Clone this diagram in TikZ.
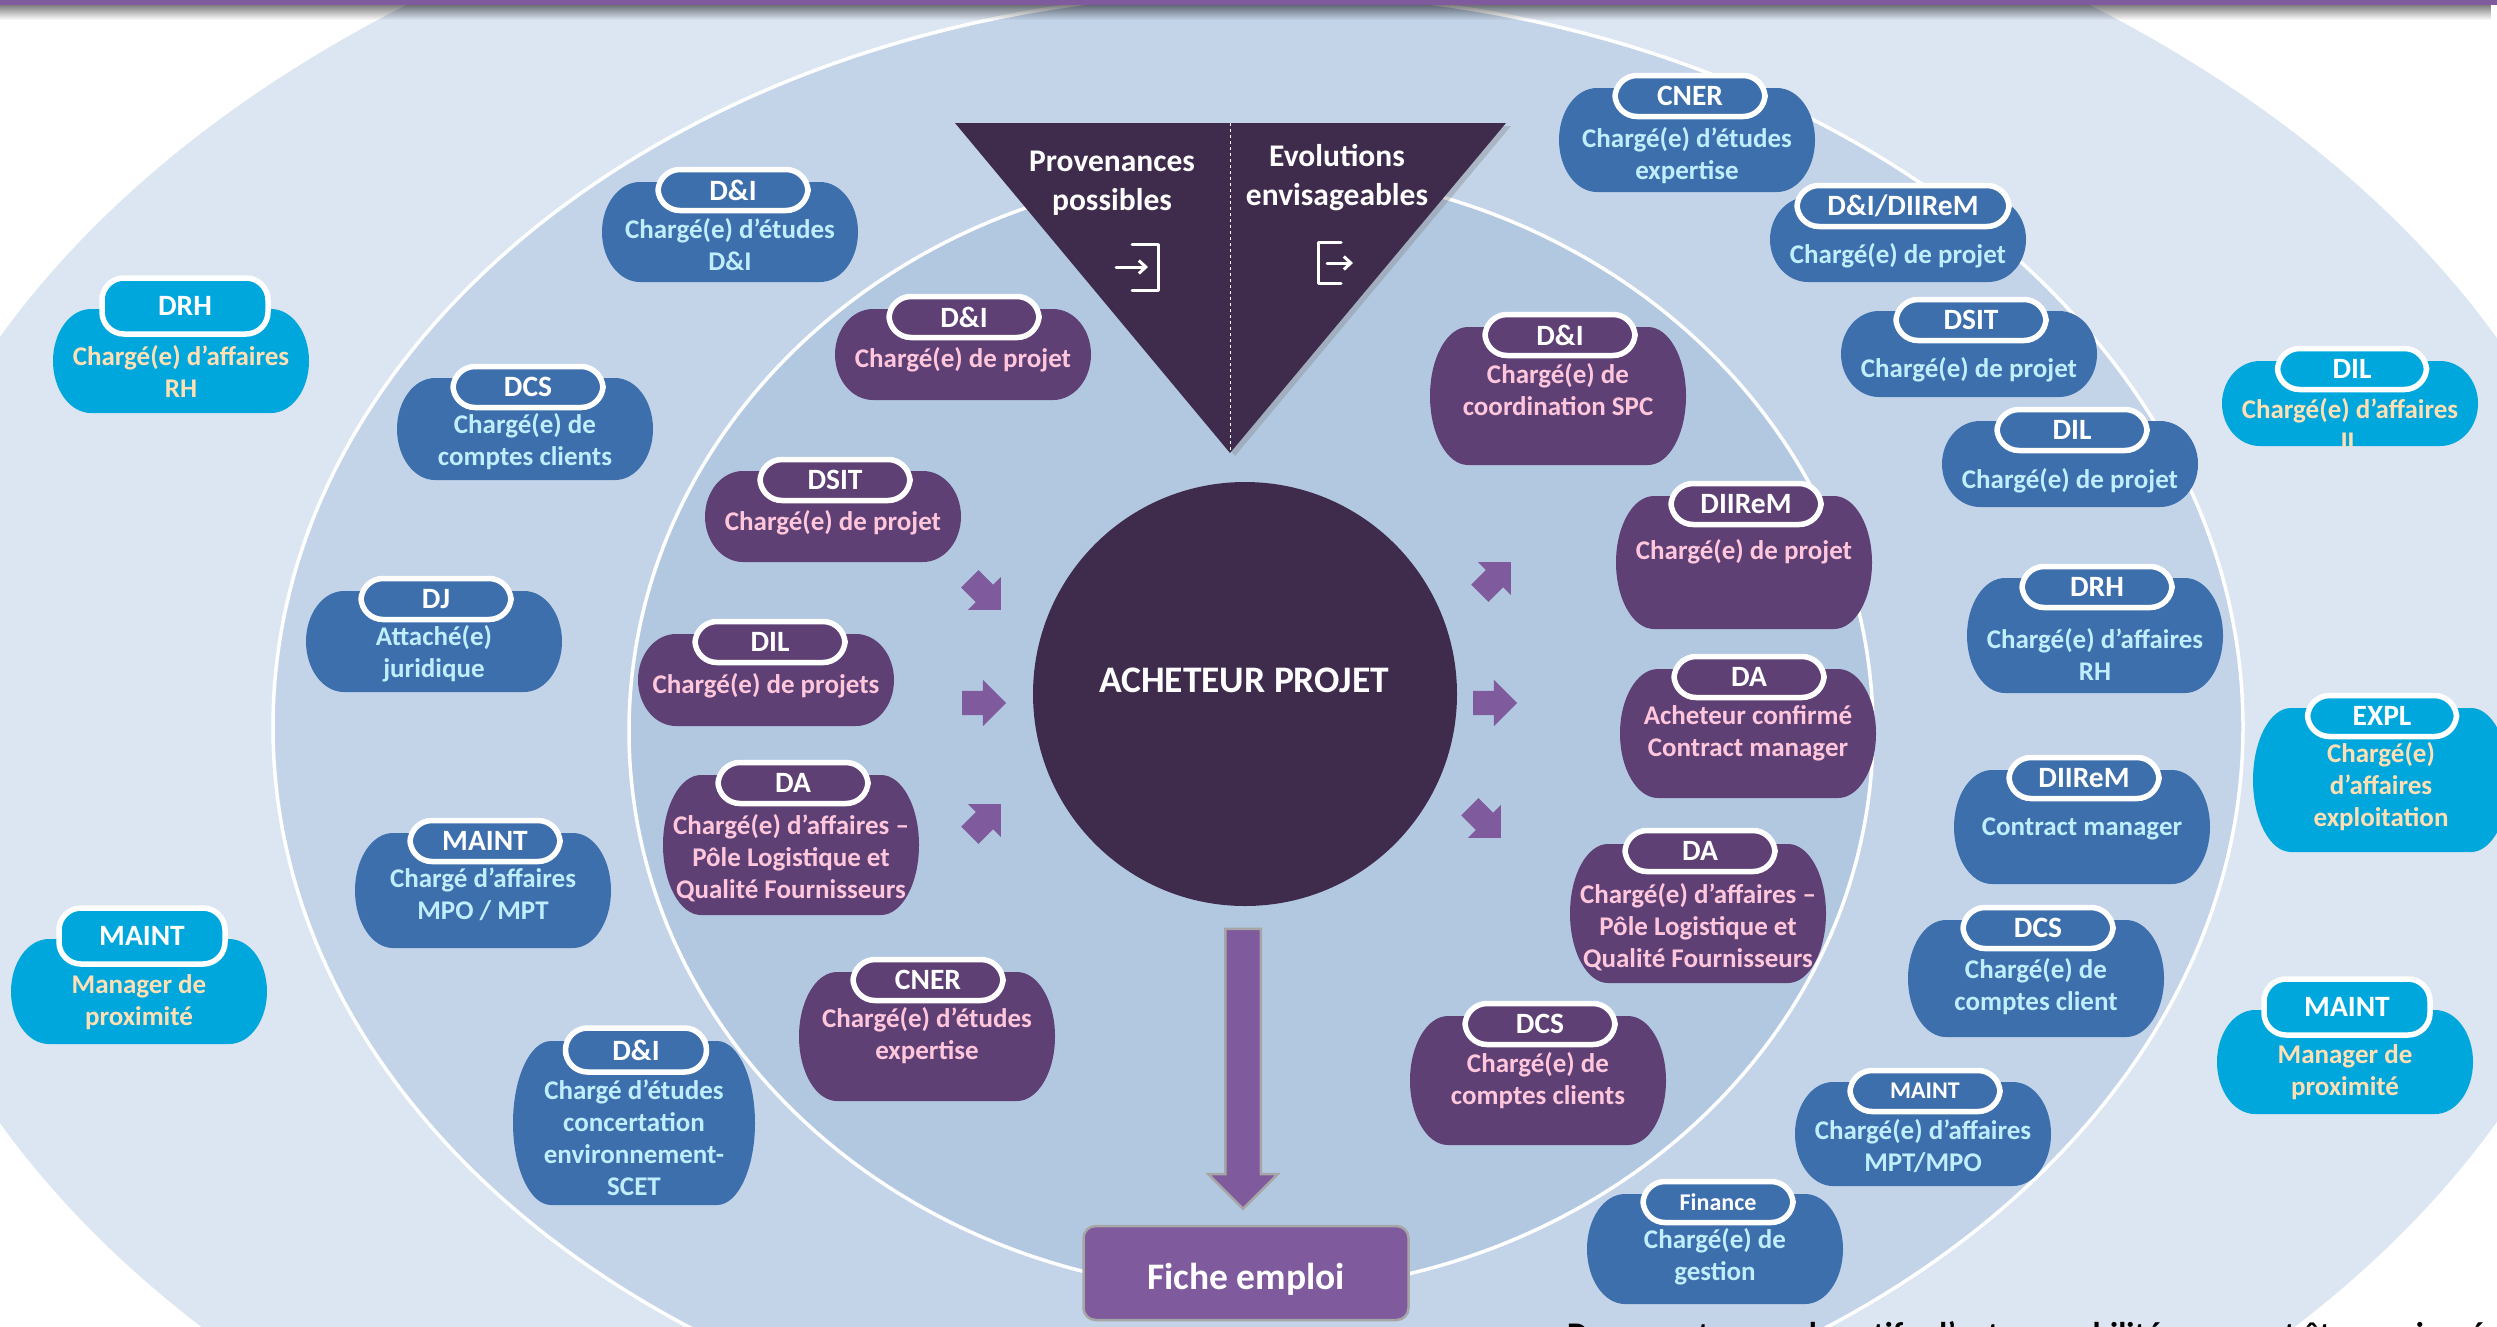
\documentclass[tikz,border=0pt]{standalone}
\usepackage{fontspec}
\setmainfont{Carlito}
\usetikzlibrary{shapes.arrows,shadows,arrows.meta,fadings}
\definecolor{bandA}{HTML}{DCE6F2}
\definecolor{bandB}{HTML}{C3D4E9}
\definecolor{bandC}{HTML}{B2C8E1}
\definecolor{nuit}{HTML}{3F2C4D}
\definecolor{mauve}{HTML}{7F5A9D}
\definecolor{prune}{HTML}{5E4075}
\definecolor{bleu}{HTML}{3E6FAD}
\definecolor{cyan}{HTML}{00A7DC}
\definecolor{txtbleu}{HTML}{BFEEFF}
\definecolor{txtprune}{HTML}{FFC6DC}
\definecolor{txtcyan}{HTML}{FFE0B4}
\tikzset{
  metier/.style={font=\fontsize{27}{32}\selectfont\bfseries,align=center,inner sep=0,yshift=-1pt},
  entete/.style={rectangle,rounded corners=22pt,draw=white,line width=5.5pt,minimum height=41pt,
    inner sep=0,text=white,font=\fontsize{29.5}{32}\selectfont\bfseries},
  fleche/.style={single arrow,fill=mauve,inner sep=0,text height=24pt,text depth=0pt,minimum height=44pt,
    single arrow head extend=11pt,single arrow head indent=0pt}
}
% corps d'une carte : centre, demi-largeur, haut, bas
\newcommand{\corps}[5]{
  \pgfmathsetmacro{\ry}{(#5-#4)/2}
  \fill[#1] ({#2-#3+38},#4) -- ({#2+#3-38},#4)
    arc[start angle=90,end angle=-90,x radius=38pt,y radius=\ry pt]
    -- ({#2-#3+38},#5)
    arc[start angle=270,end angle=90,x radius=38pt,y radius=\ry pt] -- cycle;
}
\begin{document}
\begin{tikzpicture}[x=1pt,y=-1pt]
  \useasboundingbox (0,0) rectangle (2497,1326);
  \begin{scope}
    \clip (0,0) rectangle (2497,1326);
    \fill[bandA] (1248,730) ellipse [x radius=1382pt,y radius=914pt];
    \draw[white,line width=3.5pt,fill=bandB] (1258,727) ellipse [x radius=985pt,y radius=735pt];
    \draw[white,line width=3.5pt,fill=bandC] (1251,731) ellipse [x radius=622pt,y radius=561pt];
    % bandeau du haut
    \fill[black,opacity=.5,path fading=south] (0,5) rectangle (2497,20);
    \fill[mauve] (0,0) rectangle (2497,5);
  \end{scope}
  \node[fill=nuit,circle,minimum size=424pt,inner sep=0] (acheteur) at (1245,694) {};
  \node[text=white,font=\fontsize{37.5}{40}\selectfont\bfseries] (titre) at (1244,680) {ACHETEUR PROJET};
  % triangle
  \fill[nuit,drop shadow={opacity=.35,shadow xshift=5pt,shadow yshift=-3pt}] (955,123) coordinate (tg) -- (1506,123) coordinate (td) -- (1230,453) coordinate (tb) -- cycle;
  \coordinate (th) at (1230,123);
  \draw[white,dashed,line width=1pt] (th) -- (tb);
  \node[text=white,align=center,font=\fontsize{31.5}{39}\selectfont\bfseries] (prov) at (1112,183) {Provenances\\possibles};
  \node[text=white,align=center,font=\fontsize{31.5}{39}\selectfont\bfseries] (evol) at (1337,178) {Evolutions\\envisageables};
  \begin{scope}[white,line width=3pt,line join=round,line cap=round]
    \draw (1132,244) -- (1158,244) -- (1158,290) -- (1132,290);
    \draw[-{Straight Barb[length=7pt,width=13pt]}] (1116,267) -- (1148,267);
    \draw (1341,242) -- (1318,242) -- (1318,283) -- (1341,283);
    \draw[-{Straight Barb[length=7pt,width=13pt]}] (1327,263) -- (1353,263);
  \end{scope}
  % petites fleches
  \foreach \nm/\x/\y/\rot in {fa/981/590/-45,fb/978/703/0,fc/981/824/45,fd/1491/582/45,fe/1489/703/0,ff/1481/818/-45}
    \node[fleche,rotate=\rot] (\nm) at (\x,\y) {};
  % fleche vers la fiche
  \node[single arrow,fill=mauve,draw=black!35,line width=2.5pt,rotate=-90,inner sep=0,text height=33pt,text depth=0pt,minimum height=280pt,
    single arrow head extend=17pt,single arrow head indent=0pt] (vers) at (1243,1060) {};
  \node[fill=mauve,draw=black!35,line width=2.5pt,rounded corners=12pt,minimum width=325pt,minimum height=94pt,
    text=white,font=\fontsize{37.5}{40}\selectfont\bfseries] (fiche) at (1246,1273) {\raisebox{-6pt}[\height][\depth]{Fiche emploi}};
  % cartes exterieures
  \foreach \nm/\cx/\yt/\yb/\hx/\hy/\head/\ty/\txt in {
    a1/181/309/413/185/306/DRH/370/{Chargé(e) d’affaires\\RH},
    a2/139/939/1044/142/936/MAINT/1001/{Manager de\\proximité},
    a3/2345/1010/1114/2347/1007/MAINT/1071/{Manager de\\proximité}}
  {
    \corps{cyan}{\cx}{128}{\yt}{\yb}
    \node[entete,fill=cyan,minimum width=166pt,minimum height=56pt] (\nm h) at (\hx,\hy) {\head};
    \node[metier,text=txtcyan] (\nm) at (\cx,\ty) {\txt};
  }
  \begin{scope}
    \clip (2222,300) rectangle (2478,446);
    \corps{cyan}{2350}{128}{361}{446}
    \node[entete,fill=cyan,minimum width=149pt] (a4h) at (2352,369) {DIL};
    \node[metier,text=txtcyan] (a4) at (2350,423) {Chargé(e) d’affaires\\IL};
  \end{scope}
  \corps{cyan}{2381}{128}{708}{852}
  \node[entete,fill=cyan,minimum width=149pt] (a5h) at (2382,716) {EXPL};
  \node[metier,text=txtcyan] (a5) at (2381,786) {Chargé(e)\\d’affaires\\exploitation};
  % cartes bleues
  \foreach \nm/\cx/\yt/\yb/\hx/\hy/\hw/\head/\ty/\txt in {
    b1/730/182/282/733/190/150/D\&I/244/{Chargé(e) d’études\\D\&I},
    b2/525/378/480/528/387/150/DCS/441/{Chargé(e) de\\comptes clients},
    b3/434/591/692/436/599/150/DJ/653/{Attaché(e)\\juridique},
    b4/483/833/948/485/841/150/MAINT/893/{Chargé d’affaires\\MPO / MPT},
    b5/1687/88/192/1690/96/150/CNER/155/{Chargé(e) d’études\\expertise},
    b6/1898/197/282/1903/206/212/{D\&I/DIIReM}/255/{Chargé(e) de projet},
    b7/1969/311/397/1971/320/150/DSIT/369/{Chargé(e) de projet},
    b8/2070/421/507/2072/430/150/DIL/480/{Chargé(e) de projet},
    b9/2095/578/693/2097/587/150/DRH/653/{Chargé(e) d’affaires\\RH},
    b10/2082/770/884/2084/778/150/DIIReM/828/{Contract manager},
    b11/2036/920/1037/2038/928/150/DCS/986/{Chargé(e) de\\comptes client}}
  {
    \corps{bleu}{\cx}{128}{\yt}{\yb}
    \node[entete,fill=bleu,minimum width=\hw pt] (\nm h) at (\hx,\hy) {\head};
    \node[metier,text=txtbleu] (\nm) at (\cx,\ty) {\txt};
  }
  \corps{bleu}{634}{121}{1041}{1205}
  \node[entete,fill=bleu,minimum width=141pt,minimum height=44pt] (b12h) at (636,1050) {D\&I};
  \node[metier,text=txtbleu] (b12) at (634,1137) {Chargé d’études\\concertation\\environnement-\\SCET};
  \corps{bleu}{1923}{128}{1082}{1186}
  \node[entete,fill=bleu,minimum width=150pt,font=\fontsize{24}{28}\selectfont\bfseries] (b13h) at (1925,1091) {MAINT};
  \node[metier,text=txtbleu] (b13) at (1923,1145) {Chargé(e) d’affaires\\MPT/MPO};
  \corps{bleu}{1715}{128}{1194}{1304}
  \node[entete,fill=bleu,minimum width=150pt,font=\fontsize{24}{28}\selectfont\bfseries] (b14h) at (1718,1202) {Finance};
  \node[metier,text=txtbleu] (b14) at (1715,1256) {Chargé(e) de\\gestion};
  % cartes prune
  \foreach \nm/\cx/\yt/\yb/\hx/\hy/\head/\ty/\txt in {
    c1/963/309/400/964/317/D\&I/359/{Chargé(e) de projet},
    c2/833/471/562/835/480/DSIT/522/{Chargé(e) de projet},
    c3/766/634/726/770/642/DIL/685/{Chargé(e) de projets},
    c4/791/775/915/793/783/DA/857/{Chargé(e) d’affaires –\\Pôle Logistique et\\Qualité Fournisseurs},
    c5/927/972/1101/928/980/CNER/1035/{Chargé(e) d’études\\expertise},
    c6/1558/327/465/1560/335/D\&I/389/{Chargé(e) de\\coordination SPC},
    c7/1744/496/629/1746/504/DIIReM/551/{Chargé(e) de projet},
    c8/1748/669/798/1749/677/DA/732/{Acheteur confirmé\\Contract manager},
    c9/1698/844/983/1700/851/DA/926/{Chargé(e) d’affaires –\\Pôle Logistique et\\Qualité Fournisseurs},
    c10/1538/1016/1145/1540/1024/DCS/1080/{Chargé(e) de\\comptes clients}}
  {
    \corps{prune}{\cx}{128}{\yt}{\yb}
    \node[entete,fill=prune,minimum width=150pt] (\nm h) at (\hx,\hy) {\head};
    \node[metier,text=txtprune] (\nm) at (\cx,\ty) {\txt};
  }
  % note en bas, coupee par le cadre
  \node[anchor=base west,font=\fontsize{33}{36}\selectfont\bfseries,text=black,inner sep=0] (note) at (1567,1345) {Document non exhaustif : d’autres mobilités peuvent être envisagées};
\end{tikzpicture}
\end{document}
